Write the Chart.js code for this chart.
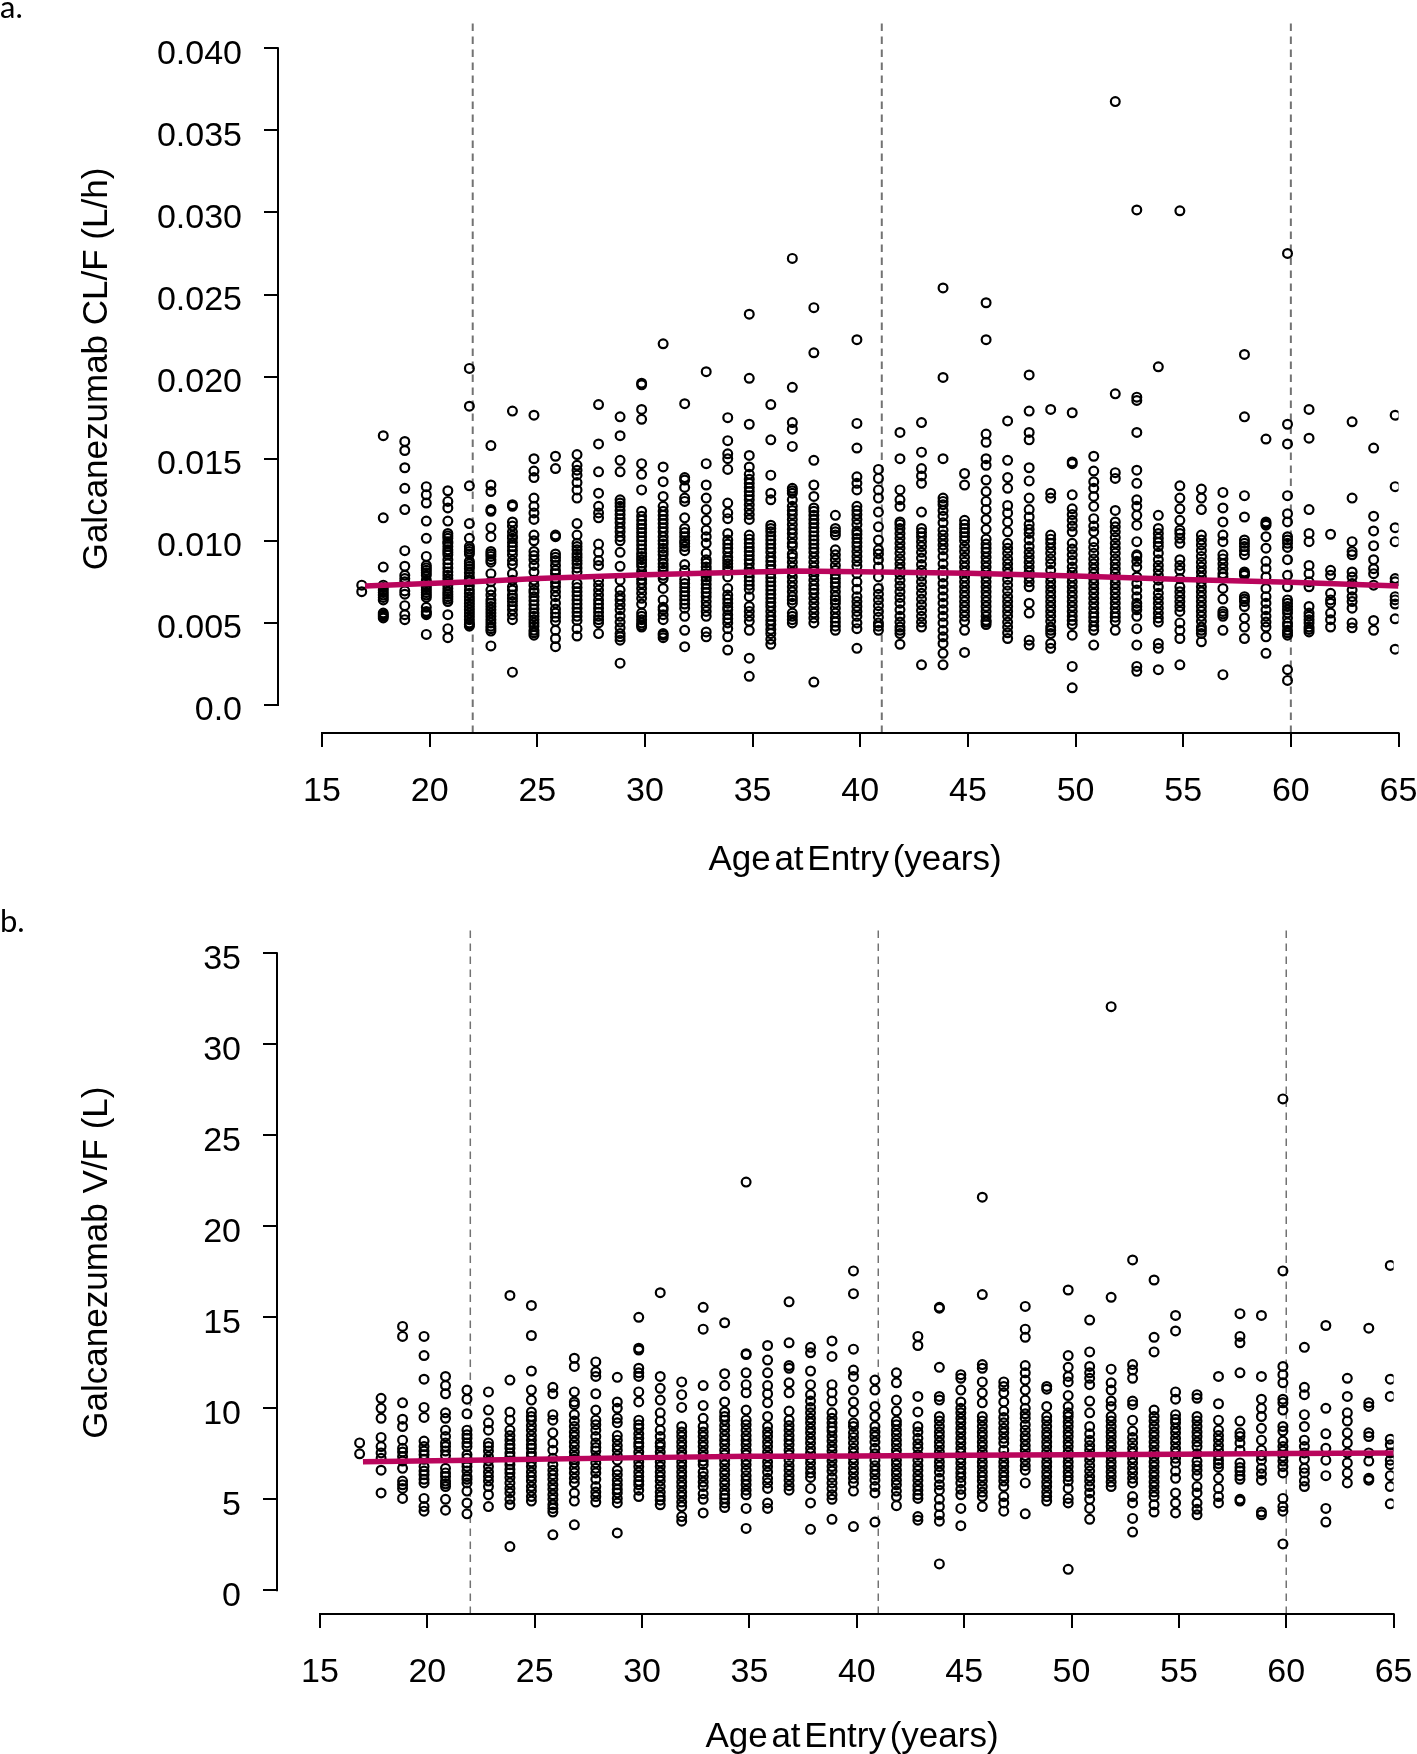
<!DOCTYPE html>
<html>
<head>
<meta charset="utf-8">
<title>Galcanezumab CL/F and V/F vs age</title>
<script src="https://cdn.jsdelivr.net/npm/chart.js@4"></script>
<style>
    html, body { margin: 0; padding: 0; background: #fff; }
    body { position: relative; width: 1417px; height: 1754px; overflow: hidden; }
    canvas { position: absolute; left: 0; }
    #chartA { top: 0; }
    #chartB { top: 890px; }
</style>
</head>
<body>
<canvas id="chartA" width="1417" height="890"></canvas>
<canvas id="chartB" width="1417" height="864"></canvas>
<script>
// ages on the x axis, one row per age in the value lists below
const ages = [17,18,19,20,21,22,23,24,25,26,27,28,29,30,31,32,33,34,35,36,37,38,39,40,41,42,43,44,45,46,47,48,49,50,51,52,53,54,55,56,57,58,59,60,61,62,63,64,65];

// panel a: CL/F, in 0.001 L/h
const clValues = [
    [7.3,6.9],
    [16.4,11.4,8.4,7.3,7.0,6.7,6.4,5.6,5.4,5.3],
    [16.05,15.5,14.45,13.2,11.9,9.4,8.45,7.9,7.5,6.95,6.05,5.5,5.2],
    [13.3,12.8,12.3,11.2,10.15,9.05,8.5,8.2,7.9,7.6,7.3,7.0,6.7,5.95,5.7,5.5,4.3],
    [13.05,12.4,12.0,11.2,10.45,10.15,9.85,9.45,9.15,8.6,8.1,7.7,7.3,6.9,6.6,6.3,5.5,4.65,4.1],
    [20.5,18.2,13.35,11.05,10.15,9.5,9.2,8.6,8.3,7.8,7.5,7,6.6,6.2,5.8,5.4,5,4.8],
    [15.8,13.4,13,11.9,11.8,10.8,10.25,9.35,9.05,8.7,8,7.5,7,6.4,6,5.6,5.2,4.8,4.5,3.6],
    [17.9,12.2,12.1,11.15,10.55,10.15,9.65,9.15,8.55,8,7.2,6.7,6.3,5.8,5.2,2.0],
    [17.65,15,14.25,13.85,12.6,12.1,11.7,11.3,10.35,10,9.35,8.85,8.1,7.6,7,6.6,6.1,5.6,5.2,4.8,4.25],
    [15.15,14.4,10.35,10.25,9.2,8.8,8.2,7.7,7.2,6.6,6.2,5.6,5.1,4.55,4.05,3.55],
    [15.25,14.6,14.3,14,13.55,13.1,12.6,11.05,10.35,9.85,9.45,9,8.6,8.1,7.4,6.9,6.4,5.9,5.4,4.65,4.2],
    [18.3,15.9,14.2,12.9,12.1,11.7,11.4,9.8,9.3,8.8,8.5,7.6,7,6.4,5.9,5.4,5,4.35],
    [17.55,16.4,14.9,14.2,12.5,12.1,11.6,11.1,10.55,10,9.3,8.45,7.6,7,6.4,5.8,5.05,4.35,3.95,2.55],
    [19.6,19.5,18,17.4,14.7,14.05,13.1,11.8,11.25,10.75,10.25,9.75,9.25,8.85,8.45,7.9,7.4,6.8,6.15,5.6,5.2,4.75],
    [22,14.5,13.6,12.7,12.1,11.55,11.05,10.55,10,9.55,9.15,8.6,8.2,7.7,7.1,6.4,5.8,5.2,4.35,4.1],
    [18.35,13.85,13.7,13.25,12.6,12.4,11.4,10.75,10.25,9.65,8.55,8.2,7.4,6.9,6.4,5.9,5.4,4.55,3.55],
    [20.3,14.7,13.4,12.6,11.9,11.25,10.65,10.25,9.85,9.25,8.85,8.4,8,7.6,7.1,6.6,6,5.4,4.45,4.15],
    [17.5,16.1,15.3,15,14.35,12.3,11.7,11.35,10.45,10.05,9.55,9,8.6,8.2,7.8,7.1,6.7,6.2,5.8,5.25,4.65,4.15,3.35],
    [23.8,19.9,17.1,15.2,14.5,14.05,13.5,13,12.5,11.9,11.3,10.35,9.85,9.35,8.85,8.3,7.8,7.3,6.6,6,5.4,4.55,2.85,1.75],
    [18.3,16.15,14,12.9,12.5,10.95,10.55,10.05,9.55,9,8.5,8,7.5,7,6.5,6,5.4,4.9,4.35,3.7],
    [27.2,19.35,17.2,16.8,15.75,13.2,12.9,12.1,11.6,11,10.45,9.85,9,8.4,7.8,7.2,6.6,6.2,5.6,5.2,5],
    [24.2,21.45,14.9,13.4,12.7,12,11.55,11.05,10.55,10.05,9.55,9,8.4,7.9,7.3,6.8,6.2,5.6,5,1.4],
    [11.55,10.75,10.35,9.45,8.85,8.2,7.7,7.2,6.6,6.2,5.6,5.05,4.55],
    [22.25,17.15,15.65,13.9,13.5,13.1,12.1,11.6,11,10.15,9.65,9.05,8.45,7.5,6.6,6,5.4,4.65,3.45],
    [14.35,13.8,13.1,12.6,11.75,10.85,10.05,9.45,8.85,7.8,7.1,6.4,5.7,5,4.55],
    [16.6,15,13.1,12.5,12.1,11.15,10.45,9.85,9.25,8.6,7.6,6.9,6.2,5.4,4.75,4.35,3.7],
    [17.2,15.4,14.4,13.95,13.5,11.75,10.75,10.25,9.65,8.95,8.2,7.5,6.8,6.1,5.4,4.75,2.45],
    [25.4,19.95,15,12.6,12.2,11.5,10.65,10.05,9.45,8.6,7.8,7,6.2,5.4,4.55,3.75,3.15,2.45],
    [14.1,13.4,11.25,10.75,10.25,9.65,9,8.4,7.8,7.2,6.6,6,5.4,4.55,3.2],
    [24.5,22.25,16.5,16,15,14.6,13.7,13,12.4,11.9,11.3,10.7,10.1,9.55,9,8.4,7.8,7.2,6.6,6,5.4,4.9],
    [17.3,14.9,13.85,13.2,12.15,11.7,11.15,10.55,9.85,9.25,8.6,8,7.3,6.6,6,5.4,4.75,4.05],
    [20.1,17.9,16.6,16.15,14.45,13.65,12.6,11.9,11,10.45,9.65,9,8.4,7.8,7.2,6.2,5.6,3.95,3.65],
    [18,12.9,12.6,10.35,9.85,9.25,8.6,7.8,7.2,6.6,6,5.4,4.75,4.35,3.75,3.45],
    [17.8,14.8,14.7,12.8,11.95,11.25,10.55,9.85,9.15,8.4,7.8,7.2,6.6,6,5.4,4.9,4.25,2.35,1.05],
    [15.15,14.25,13.6,13.2,12.7,12.1,11.35,10.55,9.95,9.25,8.6,8,7.4,6.8,6.2,5.6,5.1,4.55,3.65],
    [36.75,18.95,14.15,13.8,11.85,11.15,10.55,9.85,9.25,8.6,8,7.4,6.8,6.2,5.6,5.1,4.55],
    [30.15,18.75,18.55,16.6,14.3,13.5,12.5,12.1,11.55,10.95,9.95,9.15,8.4,7.8,7,6.2,5.8,5.4,4.65,3.65,2.35,2.05],
    [20.6,11.55,10.75,10.15,9.65,8.85,8.2,7.6,6.8,6.2,5.6,5.05,3.75,3.45,2.15],
    [30.1,13.35,12.6,11.95,11.25,10.45,9.85,8.85,8.2,7.2,6.6,6,5,4.55,4.05,2.45],
    [13.15,12.6,11.9,10.35,9.75,9.05,8.4,7.8,7.2,6.6,6,5.4,4.75,4.35,3.85],
    [12.95,12,11.15,10.35,9.95,9.15,8.6,8,7.1,6.45,5.7,5.4,4.55,1.85],
    [21.35,17.55,12.75,11.45,10.05,9.65,9.15,8.1,7.9,6.6,6.3,6,5.3,4.75,4.05],
    [16.2,11.15,10.95,10.25,9.55,8.75,7.8,7.1,6.2,5.4,4.75,4.15,3.15],
    [27.5,17.1,15.9,12.75,11.65,11.15,10.25,9.85,8.85,7.9,7.2,6.4,6,5.6,5,4.55,4.25,2.15,1.5],
    [18,16.25,11.9,10.45,9.95,8.5,8,7.5,7.2,6,5.6,5.2,4.75,4.45],
    [10.4,8.2,7.9,6.8,6.4,6.2,5.6,5.2,4.75],
    [17.25,12.6,9.95,9.35,9.15,8.1,7.8,7.4,7,6.6,6.3,5.9,5,4.7],
    [15.65,11.5,10.6,9.7,8.85,8.3,8,7.3,5.15,4.55],
    [17.65,13.3,10.8,9.95,7.7,7.5,6.6,6.4,6.15,5.25,3.4]
];

// extra circles estimated inside the solid stretches of each column, panel a
const clDense = [
    [],
    [7.15,6.85,6.55,5.5],
    [7.7,6.75],
    [8.35,8.05,7.45,7.15,6.85,6.55,5.6],
    [10.3,9.95,9.65,9.3,8.85,8.35,7.9,7.5,7.1,6.75,6.45],
    [9.65,9.35,8.75,8.45,8.05,7.65,7.25,6.8,6.4,6,5.6,5.2,4.9],
    [9.2,8.85,6.7,6.2,5.8,5.4,5,4.65],
    [10.9,10.3,9.9,9.4,8.8,7.6,7,6.5,6.05,5.5],
    [9.1,8.5,7.3,6.85,6.35,5.85,5.4,5,4.55,4.4],
    [9,8.5,8,7.45,6.9,5.85,5.35],
    [9.65,9.2,8.8,8.35,7.15,6.65,6.15,5.65,5.15],
    [7.3,6.7,6.15,5.65,5.2],
    [12.3,11.85,11.35,10.8,10.25,6.65,6.1,5.4,4.7,4.15],
    [11.5,11,10.5,10,9.5,9.05,8.65,8.15,7.65,7.1,6.5,5.4,5,4.85],
    [11.8,11.3,10.8,10.25,9.8,9.35,8.85,8.4,7.9,5.95,5.5,4.25],
    [10.5,10,9.85,9.4,7.65,7.15,6.65,6.15],
    [8.65,8.2,7.8,7.35,6.85,6.3,5.7],
    [9.8,9.3,8.8,8.4,6.45,5.95,5.5,5],
    [13.75,13.25,12.75,12.2,11.6,10.1,9.6,9.1,8.6,8.05,7.55,7.05,5.7,5.1],
    [10.75,10.3,9.8,9.3,8.75,8.25,7.75,7.25,6.75,6.25,5.7,5.15,4.6,4],
    [13.05,12.5,11.85,11.3,10.7,10.15,9.65,9.2,8.7,8.1,7.5,6.9,6.4,5.4],
    [11.8,11.3,10.8,10.3,9.8,9.3,8.7,8.15,7.6,7.05,6.5,5.9,5.3],
    [10.55,9.15,8.5,7.95,7.45,6.9,6.4,5.9,5.3,4.8],
    [11.85,11.3,10.6,10.4,9.9,9.35,8.75,8,7.05,6.3,5.7,5],
    [9.2,8.4,6.75,6.05,5.35,4.8],
    [11,10.75,10.15,9.55,8.9,8.3,7.95,7.25,6.55,5.8,5.05,4.55],
    [10.5,9.95,9.3,8.55,7.85,7.15,6.45,5.75,5.05],
    [12.4,11.85,11.1,10.35,9.75,9.05,8.2,7.4,6.6,5.8,5,4.15],
    [11,10.5,10,9.35,8.7,8.1,7.5,6.9,6.3,5.7,5.1],
    [9.8,9.3,8.7,8.1,7.5,6.9,6.3,5.7,5.15,5.05],
    [9.55,8.9,8.3,7.65,6.95,6.3,5.7,5.05,4.4],
    [11.45,10.7,10.05,9.3,8.7,8.1,7.5],
    [10.1,9.55,8.9,8.2,7.5,6.9,6.3,5.7,5.1,4.55],
    [11.6,10.9,9.5,8.8,8.1,7.5,6.9,6.3,5.7,5.15],
    [10.9,9.6,8.9,8.3,7.7,7.1,6.5,5.9,5.35,4.8],
    [10.85,10.2,9.55,8.9,8.3,7.7,7.1,6.5,5.9,5.35],
    [9.05,8.75,7.4,6.6,6],
    [10.45,9.9,9.25,8.5,7.9,7.2,6.5,5.9,5.3],
    [10.65,10.15,8.5,7.7,6.9,6.3,5.7],
    [10.05,9.4,8.7,8.1,7.5,6.9,6.3,5.7,5.1,4.55],
    [8.9,8.3,7.8,5.55],
    [9.85,9.4,8,6.45],
    [11.05,8.3,6.6,5.8,5.05],
    [10.05,9.6,6.2,5.8,5.3,4.8,4.4],
    [5.4,5,4.6],
    [],
    [],
    [],
    []
];

// panel b: V/F, in L
const vfValues = [
    [8.1,7.5],
    [10.55,10,9.45,8.4,7.9,7.55,7.25,6.6,5.35],
    [14.5,13.95,10.3,9.4,9,8.25,7.8,7.35,6.7,6,5.6,5.05],
    [13.95,12.9,11.6,10.05,9.5,8.2,7.9,7.45,6.8,6.35,5.9,5.05,4.6,4.35],
    [11.75,11.25,10.8,9.75,9.45,8.8,8.1,7.65,6.7,6.25,5.7,5,4.4],
    [11,10.5,9.7,8.8,8.35,7.9,7.25,6.8,6.25,5.9,5.45,4.8,4.2],
    [10.9,9.9,9.2,8.8,8.1,7.65,7.1,6.5,6,5.25,4.6],
    [16.2,11.55,9.8,9.35,8.8,8.25,7.8,7.35,6.9,6.45,5.9,5.35,4.7,2.4],
    [15.65,14,12.05,11,10.45,9.8,9.35,8.8,8.25,7.8,7.35,6.8,6.25,5.7,5.15,4.9],
    [11.15,10.8,9.65,9.35,8.65,8.1,7.7,6.9,6.35,5.8,5.25,4.7,4.3,3.05],
    [12.75,12.3,10.9,10.35,10.2,9.65,9,8.45,7.9,7.35,7,6.45,5.9,5.35,4.9,3.6],
    [12.55,12,11.75,10.8,9.9,9.35,8.8,8.1,7.65,7,6.45,5.7,5.15,4.85],
    [11.7,10.35,10,9.45,9.2,8.25,7.7,7.15,6.35,5.8,5.35,4.8,3.15],
    [15,13.3,13.2,12.2,11.95,11.75,10.9,10.35,9.35,8.9,8.35,7.9,7.35,6.8,6.25,5.8,5.15],
    [16.35,11.75,11.1,10.45,9.75,9.3,8.8,8.45,7.9,7.35,6.8,6.25,5.7,5.15,4.7],
    [11.45,10.75,10.05,9,8.45,7.9,7.35,6.8,6.25,5.7,5.15,4.6,4.05,3.8],
    [15.55,14.35,11.25,10.15,9.45,9,8.45,7.9,7.35,6.9,6.25,5.7,5,4.25],
    [14.7,11.9,11.25,10.35,9.8,9.35,8.8,8.25,7.7,7.15,6.6,6.05,5.5,5.05,4.55],
    [22.43,13,12.95,11.95,11.3,10.85,9.9,9.35,8.8,8.25,7.7,7.15,6.6,6.05,5.5,5.25,4.5,3.4],
    [13.45,12.65,11.95,11.25,10.8,10.3,9.55,9,8.45,7.9,7.35,6.8,6.15,5.6,4.8,4.5],
    [15.85,13.6,12.35,12.2,11.4,10.85,9.85,9.35,8.8,8.25,7.7,7.15,6.6,6.05,5.5],
    [13.35,13.05,12.05,11.3,10.75,10.4,9.75,9.2,8.65,8.1,7.55,7,6.45,5.6,4.8,3.35],
    [13.7,12.85,11.3,10.85,10.4,9.75,9.2,8.75,8.2,7.65,7.1,6.55,5.9,5.25,5,3.9],
    [17.55,16.3,13.25,12.1,11.75,11,10.35,9.8,9.2,8.65,8.1,7.55,7,6.45,5.9,5.45,3.5],
    [11.55,11,10.1,9.55,9,8.45,7.8,7.15,6.6,6.05,5.35,3.75],
    [11.95,11.4,10.45,9.85,9.1,8.55,8,7.45,6.9,6.35,5.8,5.15,4.65],
    [13.95,13.45,10.65,9.8,9,8.35,7.8,7.15,6.6,6.05,5.5,5.05,4.05,3.85],
    [15.55,15.5,12.25,10.65,10.45,9.55,9,8.45,7.9,7.35,6.8,6.15,5.5,5,4.6,4.15,3.8,1.45],
    [11.85,11.65,11,10.35,9.75,9.2,8.65,8.1,7.55,7,6.45,5.9,5.25,4.5,3.55],
    [21.6,16.25,12.4,12.2,11.45,10.85,10.3,9.55,9,8.45,7.9,7.35,6.8,6.25,5.7,5.15,4.6],
    [11.45,11.2,10.85,10.35,9.85,9.2,8.65,8.1,7.35,6.8,6.25,5.7,5.15,4.8,4.35],
    [15.6,14.35,13.9,12.35,11.95,11.55,11,10.45,10,9.45,8.8,8.25,7.7,7.15,6.6,5.9,4.2],
    [11.2,11.05,10.1,9.55,9,8.45,7.9,7.35,6.8,6.25,5.7,5.15,4.9],
    [16.5,12.9,12.25,11.75,11.45,10.7,10.1,9.55,9,8.45,7.9,7.35,6.8,6.25,5.6,5.05,4.8,1.15],
    [14.85,13.1,12.3,11.95,11.65,11.3,10.4,9.75,9,8.25,7.7,7.15,6.55,6,5.35,5,4.5,3.9],
    [32.07,16.1,12.15,11.4,11,10.4,10.1,9.55,9,8.45,7.9,7.35,6.8,6.25,5.7],
    [18.15,12.4,12.1,11.65,10.4,10.2,9.35,8.75,8.1,7.55,7,6.45,5.9,5.15,4.8,3.95,3.2],
    [17.05,13.9,13.1,9.9,9.55,9,8.45,7.9,7.35,6.8,6.25,5.7,5.15,4.7,4.3],
    [15.1,14.25,10.9,10.5,9.65,9.2,8.65,8.1,7.55,7,6.15,5.35,4.8,4.25],
    [10.75,10.55,9.55,9,8.45,7.9,7.1,6.6,5.7,5.35,4.8,4.45,4.15],
    [11.75,10.25,9.35,8.8,8.25,7.7,7.15,6.75,6.15,5.6,5.15,4.8],
    [15.2,13.95,13.6,11.95,9.3,8.65,8.45,7.7,7,6.55,6.1,5,4.9],
    [15.1,11.75,10.5,10,9.55,8.9,8.25,7.7,7.15,6.7,6.05,4.3,4.15],
    [27,17.55,12.3,11.85,11.4,10.5,10.3,9.9,9,8.75,8.2,7.65,7.1,6.45,5.05,4.6,4.35,2.55],
    [13.35,11.15,10.75,9.65,9,8.25,7.55,6.7,6.45,6,5.7],
    [14.55,10,8.6,7.8,7.15,6.3,4.5,3.75],
    [11.65,10.65,9.75,9.3,8.65,8.1,7.55,7,6.45,5.9],
    [14.4,10.3,10.1,8.65,8.45,7.55,7.1,6.15,6.05],
    [17.85,11.6,10.65,8.3,8,7.55,7.15,6.9,6.3,5.7,4.75]
];

// extra circles estimated inside the solid stretches of each column, panel b
const vfDense = [
    [],
    [],
    [7.6,7.1,5.8],
    [7.65,7.2,6.55,6.1],
    [8.45,7.9,7.4,6.45,6,5.85],
    [8.55,8.1,7.45,7,6.55,6.1],
    [7.9,7.35,6.8,6.25,5.7],
    [8.5,8,7.55,7.1,6.65,6.2,5.6,5],
    [9.55,9.05,8.5,8,7.55,7.05,6.5,6,5.45],
    [7.25,6.6,6.1,5.55,5,4.5],
    [9.3,8.7,8.15,7.6,7.2,6.7,6.15],
    [9.1,8.45,7.85,7.3,6.7,6.1,5.4],
    [8.5,7.95,7.4,6.6,6.05,5.55,5.05],
    [9.1,8.6,8.1,7.6,7.05,6.5,6,5.5],
    [8.1,7.6,7.05,6.5,6,5.4,4.95],
    [8.7,8.15,7.6,7.05,6.5,5.95,5.4,4.85],
    [8.7,8.15,7.6,7.1,6.5,5.95,5.3],
    [9.55,9.05,8.5,8,7.45,6.9,6.35,5.8,5.25,4.8],
    [9.1,8.5,8,7.45,6.9,6.3,5.8],
    [8.7,8.15,7.6,7.05,6.5,5.9],
    [9.05,8.5,8,7.45,6.85,6.3,5.75],
    [10.05,9.45,8.9,8.35,7.8,7.25,6.7,6.2],
    [9.45,8.95,8.45,7.9,7.35,6.8,6.2,5.6],
    [9,8.4,7.8,7.25,6.7,6.15],
    [8.7,8.15,7.5,6.85,6.35,5.7],
    [9.3,8.8,8.25,7.7,7.15,6.6,6.05,5.45],
    [8.7,8.05,7.45,6.85,6.3,5.75,5.25],
    [9.3,8.7,8.15,7.6,7.05,6.5,5.8],
    [10,9.45,8.9,8.35,7.8,7.25,6.7,6.2,5.55],
    [9.3,8.7,8.15,7.6,7.05,6.5,6,5.4],
    [9.5,8.9,8.35,7.7,7.05,6.5,6],
    [9.7,9.1,8.5,7.95,7.4,6.85],
    [9.3,8.7,8.15,7.6,7.05,6.5,5.95,5.4],
    [9.75,9.25,8.7,8.15,7.6,7.05,6.5,6],
    [8.6,7.95,7.4,6.85,6.25,5.7],
    [9.3,8.7,8.15,7.6,7.05,6.5,5.95],
    [8.4,7.8,7.25,6.7,6.15],
    [9.3,8.7,8.15,7.6,7.05,6.5,5.95,5.4],
    [9.4,8.9,8.35,7.8,7.25,6.55],
    [9.3,8.7,8.15,7.5,6.85,6.3],
    [8.5,7.95,7.4,6.95],
    [8.1,6.75,6.3],
    [7.4,6.4],
    [7.9,7.35,6.8],
    [7.9,7.2],
    [],
    [],
    [],
    []
];

// pink trend lines
const trendAges = [17,22,25,30,35,37,40,45,50,55,60,65];
const clTrend = [7.25,7.5,7.7,7.94,8.1,8.16,8.12,8.02,7.86,7.65,7.47,7.25];
const vfTrend = [7.07,7.15,7.2,7.29,7.36,7.37,7.38,7.42,7.45,7.47,7.51,7.54];

// dashed reference ages
const refAges = [22,41,60];

// tick lists
const xTicks = [15,20,25,30,35,40,45,50,55,60,65];
const clTicks = [0,5,10,15,20,25,30,35,40];
const clTickLabels = ['0.0','0.005','0.010','0.015','0.020','0.025','0.030','0.035','0.040'];
const vfTicks = [0,5,10,15,20,25,30,35];
const vfTickLabels = ['0','5','10','15','20','25','30','35'];

const FONT = '"Liberation Sans", Arial, sans-serif';
const DOT_SHIFT = -0.155; // the circles sit a little left of the axis ticks in the original

// axis lines, titles and the a./b. tag
const furniture = {
    id: 'furniture',
    afterDatasetsDraw(chart, args, opts) {
        const { ctx, scales: { x, y } } = chart;
        const left = chart.chartArea.left, bottom = chart.chartArea.bottom;
        ctx.save();
        ctx.strokeStyle = '#000';
        ctx.lineWidth = 2;
        ctx.beginPath();
        ctx.moveTo(left, y.getPixelForValue(opts.yTop) - 1);
        ctx.lineTo(left, y.getPixelForValue(0) + 1);
        ctx.moveTo(x.getPixelForValue(15) - 1, bottom);
        ctx.lineTo(x.getPixelForValue(65) + 1, bottom);
        ctx.stroke();

        ctx.fillStyle = '#000';
        ctx.textBaseline = 'middle';
        ctx.textAlign = 'center';
        ctx.font = '35px ' + FONT;
        ctx.wordSpacing = '-6px';
        ctx.fillText(opts.xTitle, opts.xTitleAt[0], opts.xTitleAt[1]);
        ctx.wordSpacing = '0px';

        ctx.translate(opts.yTitleAt[0], opts.yTitleAt[1]);
        ctx.rotate(-Math.PI / 2);
        ctx.fillText(opts.yTitle, 0, 0);
        ctx.rotate(Math.PI / 2);
        ctx.translate(-opts.yTitleAt[0], -opts.yTitleAt[1]);

        ctx.font = '31px Lato, "Open Sans", sans-serif';
        ctx.textAlign = 'left';
        ctx.textBaseline = 'alphabetic';
        ctx.fillText(opts.tag, 0, opts.tagY);
        ctx.restore();
    }
};

function dotPoints(rows, dense) {
    const pts = [];
    ages.forEach((age, i) => {
        rows[i].concat(dense[i]).forEach(v => pts.push({ x: age + DOT_SHIFT, y: v }));
    });
    return pts;
}

function buildPanel(id, p) {
    const datasets = [];
    refAges.forEach(a => {
        datasets.push({
            type: 'line',
            data: [{ x: a, y: p.yMin }, { x: a, y: p.yMax }],
            borderColor: '#727272',
            borderWidth: p.dashWidth,
            borderDash: [7.5, 5.5],
            pointRadius: 0,
            order: 3
        });
    });
    datasets.push({
        type: 'scatter',
        data: dotPoints(p.rows, p.dense),
        pointStyle: 'circle',
        pointRadius: 4.4,
        pointBorderWidth: 2.2,
        pointBorderColor: '#000',
        pointBackgroundColor: 'rgba(0,0,0,0)',
        order: 2
    });
    datasets.push({
        type: 'line',
        data: trendAges.map((a, i) => ({ x: a, y: p.trend[i] })),
        borderColor: '#b9055c',
        borderWidth: 5.5,
        pointRadius: 0,
        tension: 0,
        order: 1
    });

    new Chart(document.getElementById(id), {
        data: { datasets },
        plugins: [furniture],
        options: {
            responsive: false,
            animation: false,
            events: [],
            layout: { padding: { top: p.top, right: p.right, left: 0, bottom: 0 } },
            plugins: {
                legend: { display: false },
                tooltip: { enabled: false },
                furniture: p.furniture
            },
            scales: {
                x: {
                    type: 'linear',
                    min: p.xMin,
                    max: 65,
                    border: { display: false },
                    grid: { drawOnChartArea: false, drawTicks: true, tickLength: 14, color: '#000', lineWidth: 2 },
                    afterBuildTicks: s => { s.ticks = xTicks.map(v => ({ value: v })); },
                    afterFit: s => {
                        s.height = p.canvasH - p.bottom;
                        s.paddingLeft = s.paddingRight = 0;
                    },
                    ticks: {
                        color: '#000',
                        padding: 24,
                        maxRotation: 0,
                        autoSkip: false,
                        font: { family: FONT, size: 34 },
                        callback: v => String(v)
                    }
                },
                y: {
                    type: 'linear',
                    min: p.yMin,
                    max: p.yMax,
                    border: { display: false },
                    grid: { drawOnChartArea: false, drawTicks: true, tickLength: 14, color: '#000', lineWidth: 2 },
                    afterBuildTicks: s => { s.ticks = p.yTicks.map(v => ({ value: v })); },
                    afterFit: s => {
                        s.width = p.left;
                        s.paddingTop = s.paddingBottom = 0;
                    },
                    ticks: {
                        color: '#000',
                        padding: 22,
                        autoSkip: false,
                        labelOffset: 6,
                        font: { family: FONT, size: 34 },
                        callback: (v, i) => p.yTickLabels[i]
                    }
                }
            }
        }
    });
}

buildPanel('chartA', {
    rows: clValues, dense: clDense, trend: clTrend, yTicks: clTicks, yTickLabels: clTickLabels,
    canvasH: 890, left: 278, top: 20, right: 18.5, bottom: 733,
    xMin: 12.956, yMin: -1.705, yMax: 41.72, dashWidth: 2,
    furniture: {
        yTop: 40, tag: 'a.', tagY: 18,
        xTitle: 'Age at Entry (years)', xTitleAt: [855, 860],
        yTitle: 'Galcanezumab CL/F (L/h)', yTitleAt: [97, 369]
    }
});

buildPanel('chartB', {
    rows: vfValues, dense: vfDense, trend: vfTrend, yTicks: vfTicks, yTickLabels: vfTickLabels,
    canvasH: 864, left: 277, top: 36, right: 23.4, bottom: 724,
    xMin: 12.997, yMin: -1.302, yMax: 36.5, dashWidth: 1.5,
    furniture: {
        yTop: 35, tag: 'b.', tagY: 42,
        xTitle: 'Age at Entry (years)', xTitleAt: [852, 847.5],
        yTitle: 'Galcanezumab V/F (L)', yTitleAt: [97, 372.6]
    }
});
</script>
</body>
</html>
